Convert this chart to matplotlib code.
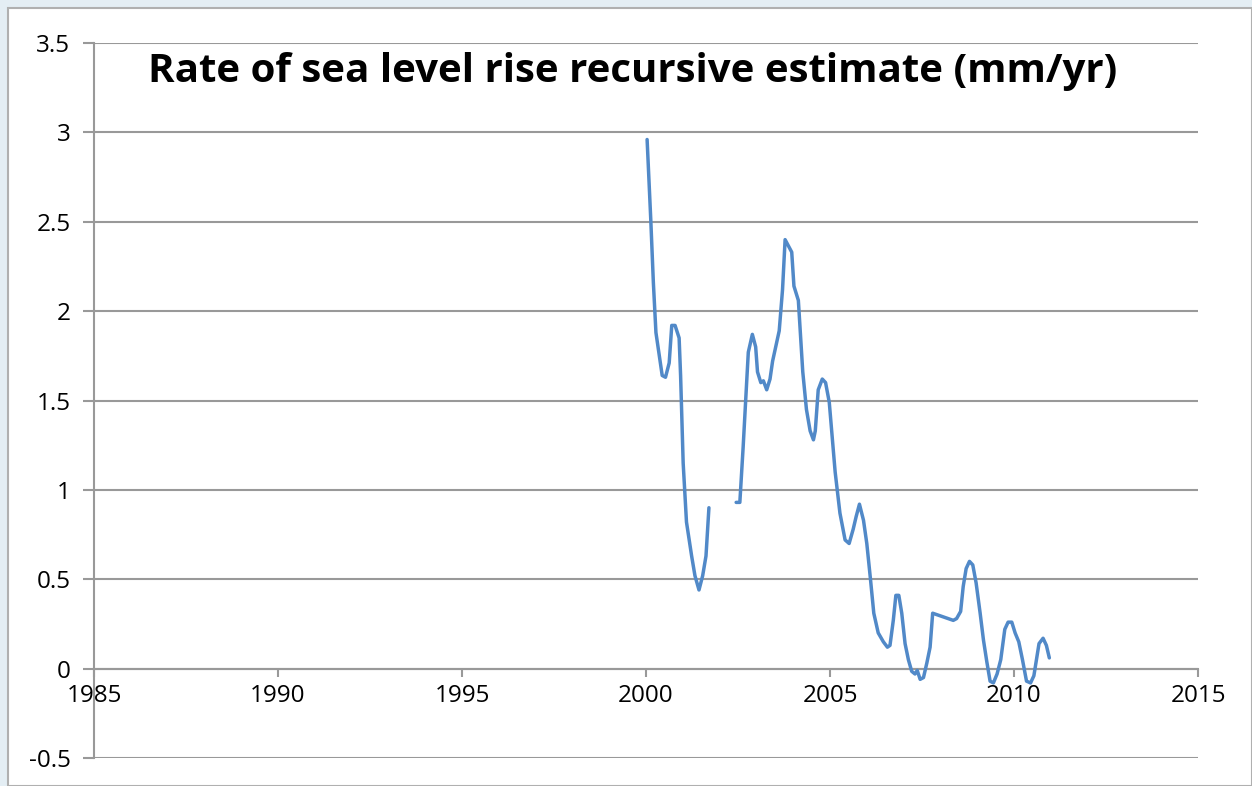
#!/usr/bin/env python3
"""Rate of sea level rise, recursive estimate (Excel-style line chart)."""

import numpy as np
import matplotlib.pyplot as plt
from matplotlib.patches import Rectangle

plt.rcParams['font.family'] = 'Open Sans'

TITLE = 'Rate of sea level rise recursive estimate (mm/yr)'

# first stretch, 2000.0 - 2001.7
YEAR_A = [2000.03, 2000.13, 2000.20, 2000.27, 2000.44, 2000.53, 2000.63, 2000.70,
          2000.79, 2000.90, 2000.94, 2001.01, 2001.10, 2001.24, 2001.33, 2001.44,
          2001.54, 2001.63, 2001.71]
RATE_A = [2.96, 2.51, 2.16, 1.88, 1.64, 1.63, 1.71, 1.92,
          1.92, 1.85, 1.64, 1.15, 0.82, 0.63, 0.52, 0.44,
          0.52, 0.63, 0.90]

# second stretch, after the gap in 2002
YEAR_B = [2002.45, 2002.55, 2002.64, 2002.74, 2002.78, 2002.89, 2002.98, 2003.03,
          2003.12, 2003.19, 2003.28, 2003.37, 2003.44, 2003.62, 2003.71, 2003.78,
          2003.96, 2004.02, 2004.14, 2004.26, 2004.36, 2004.46, 2004.55, 2004.60,
          2004.68, 2004.79, 2004.88, 2004.98, 2005.14, 2005.27, 2005.41, 2005.52,
          2005.63, 2005.71, 2005.80, 2005.91, 2006.00, 2006.10, 2006.19, 2006.31,
          2006.45, 2006.56, 2006.63, 2006.72, 2006.79, 2006.87, 2006.95, 2007.04,
          2007.13, 2007.22, 2007.31, 2007.37, 2007.45, 2007.54, 2007.63, 2007.72,
          2007.79, 2008.35, 2008.44, 2008.55, 2008.62, 2008.70, 2008.79, 2008.88,
          2008.97, 2009.08, 2009.17, 2009.26, 2009.35, 2009.44, 2009.54, 2009.64,
          2009.75, 2009.84, 2009.94, 2010.03, 2010.13, 2010.23, 2010.34, 2010.45,
          2010.54, 2010.61, 2010.68, 2010.79, 2010.88, 2010.96]
RATE_B = [0.93, 0.93, 1.24, 1.62, 1.77, 1.87, 1.80, 1.66,
          1.60, 1.61, 1.56, 1.62, 1.72, 1.89, 2.12, 2.40,
          2.33, 2.14, 2.06, 1.66, 1.45, 1.33, 1.28, 1.33,
          1.56, 1.62, 1.60, 1.49, 1.10, 0.87, 0.72, 0.70,
          0.78, 0.85, 0.92, 0.83, 0.70, 0.50, 0.31, 0.20,
          0.15, 0.12, 0.13, 0.27, 0.41, 0.41, 0.31, 0.14,
          0.05, -0.015, -0.03, -0.01, -0.06, -0.05, 0.03, 0.12,
          0.31, 0.27, 0.28, 0.32, 0.46, 0.56, 0.60, 0.58,
          0.48, 0.31, 0.16, 0.04, -0.07, -0.08, -0.03, 0.05,
          0.22, 0.26, 0.26, 0.20, 0.15, 0.05, -0.07, -0.08,
          -0.04, 0.05, 0.14, 0.17, 0.13, 0.06]

X_TICKS = [1985, 1990, 1995, 2000, 2005, 2010, 2015]
Y_TICKS = [-0.5, 0, 0.5, 1, 1.5, 2, 2.5, 3, 3.5]
Y_LABELS = ['-0.5', '0', '0.5', '1', '1.5', '2', '2.5', '3', '3.5']

GRID = '#999999'
LINE = '#5189C8'

fig = plt.figure(figsize=(12.52, 7.86), dpi=100, facecolor='#e4eef4')
# white chart card with a thin grey frame, as in the slide
fig.patches.append(Rectangle((8 / 1252, 0), 1 - 8 / 1252, 1 - 8 / 786,
                             transform=fig.transFigure, facecolor='white',
                             edgecolor='#b0b0b0', linewidth=1.5, zorder=-10))

ax = fig.add_axes([94 / 1252, 1 - 758 / 786, (1198 - 94) / 1252, (758 - 43) / 786])
ax.set_facecolor('none')

# gap in 2002 -> join the two stretches with a NaN
years = np.array(YEAR_A + [np.nan] + YEAR_B)
rates = np.array(RATE_A + [np.nan] + RATE_B)
ax.plot(years, rates, color=LINE, linewidth=2.5, solid_joinstyle='round',
        solid_capstyle='round', zorder=3)

ax.set_xlim(1985, 2015)
ax.set_ylim(-0.5, 3.5)

ax.set_yticks(Y_TICKS)
ax.set_yticklabels(Y_LABELS)
ax.set_xticks(X_TICKS)
ax.set_xticklabels([str(x) for x in X_TICKS])

ax.grid(True, axis='y', color=GRID, linewidth=1.5)
ax.set_axisbelow(True)

for side in ['top', 'right']:
    ax.spines[side].set_visible(False)
ax.spines['left'].set_color(GRID)
ax.spines['left'].set_linewidth(1.5)
ax.spines['bottom'].set_position(('data', 0))
ax.spines['bottom'].set_color(GRID)
ax.spines['bottom'].set_linewidth(1.5)

ax.tick_params(axis='y', length=8, width=1.5, color=GRID, pad=9,
               labelsize=17.5, labelcolor='black')
ax.tick_params(axis='x', length=6, width=1.5, color=GRID, pad=5,
               labelsize=17.5, labelcolor='black')

ax.text(0.4878, 0.945, TITLE, transform=ax.transAxes, ha='center', va='baseline',
        fontsize=29, fontweight='bold', color='black')

plt.savefig('out.png', dpi=100, facecolor=fig.get_facecolor())
plt.close()
